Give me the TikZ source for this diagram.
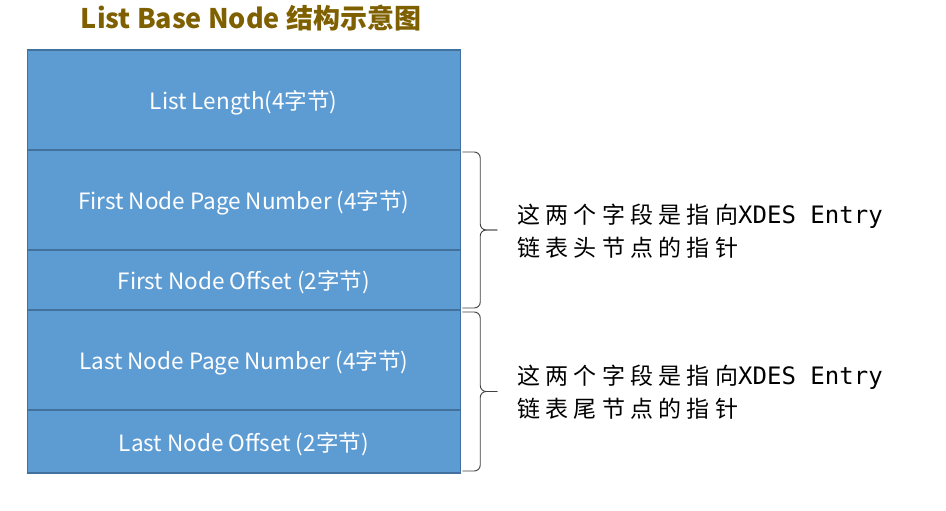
\documentclass[tikz,border=0pt]{standalone}
\usepackage{fontspec}
\setmainfont{Noto Sans CJK SC}
\newfontfamily\notefont[LetterSpace=23]{Noto Sans CJK SC}
\newfontfamily\notemono{DejaVu Sans Mono}
\usetikzlibrary{positioning}
\usetikzlibrary{calc}

\definecolor{fieldfill}{RGB}{93,155,211}
\definecolor{fieldline}{RGB}{65,113,156}
\definecolor{titlebrown}{RGB}{127,96,0}

\begin{document}
\begin{tikzpicture}[
    x=1pt, y=-1pt,
    field/.style={draw=fieldline, fill=fieldfill, line width=1.5pt, outer sep=0pt,
        minimum width=433pt, inner sep=0pt, text depth=0pt, text=white, font=\fontsize{22.5}{26}\selectfont},
    brace/.style={line width=0.9pt, draw=black!75, rounded corners=6pt},
    note/.style={anchor=west, align=left, inner sep=0pt, font=\fontsize{23}{33}\selectfont\notefont}
]
    \useasboundingbox (0,0) rectangle (946,511);

    % title
    \node[text=titlebrown, font=\fontsize{27}{30}\selectfont\bfseries] (title) at (251,18)
        {List Base Node 结构示意图};

    % fields of the node
    \node[field, minimum height=100pt, anchor=north] (len) at (243.75,50) {List Length(4字节)};
    \node[field, minimum height=100pt, below=0pt of len] (firstpage) {First Node Page Number (4字节)};
    \node[field, minimum height=60pt, below=0pt of firstpage] (firstoff) {First Node Offset (2字节)};
    \node[field, minimum height=100pt, below=0pt of firstoff] (lastpage) {Last Node Page Number (4字节)};
    \node[field, minimum height=63pt, below=0pt of lastpage] (lastoff) {Last Node Offset (2字节)};

    % braces
    \coordinate (firsttip) at ($(firstpage.north east)!0.5!(firstoff.south east)+(37,0)$);
    \draw[brace] ([shift={(2,2)}]firstpage.north east) -- ++(18,0) |- (firsttip);
    \draw[brace] ([shift={(2,-2)}]firstoff.south east) -- ++(18,0) |- (firsttip);
    \coordinate (lasttip) at ($(lastpage.north east)!0.5!(lastoff.south east)+(37,0)$);
    \draw[brace] ([shift={(2,2)}]lastpage.north east) -- ++(18,0) |- (lasttip);
    \draw[brace] ([shift={(2,-2)}]lastoff.south east) -- ++(18,0) |- (lasttip);

    % notes
    \node[note] (firstnote) at (517,231) {这两个字段是指向{\notemono\fontsize{24}{33}\selectfont XDES Entry}\\链表头节点的指针};
    \node[note] (lastnote) at (517,392) {这两个字段是指向{\notemono\fontsize{24}{33}\selectfont XDES Entry}\\链表尾节点的指针};
\end{tikzpicture}
\end{document}
